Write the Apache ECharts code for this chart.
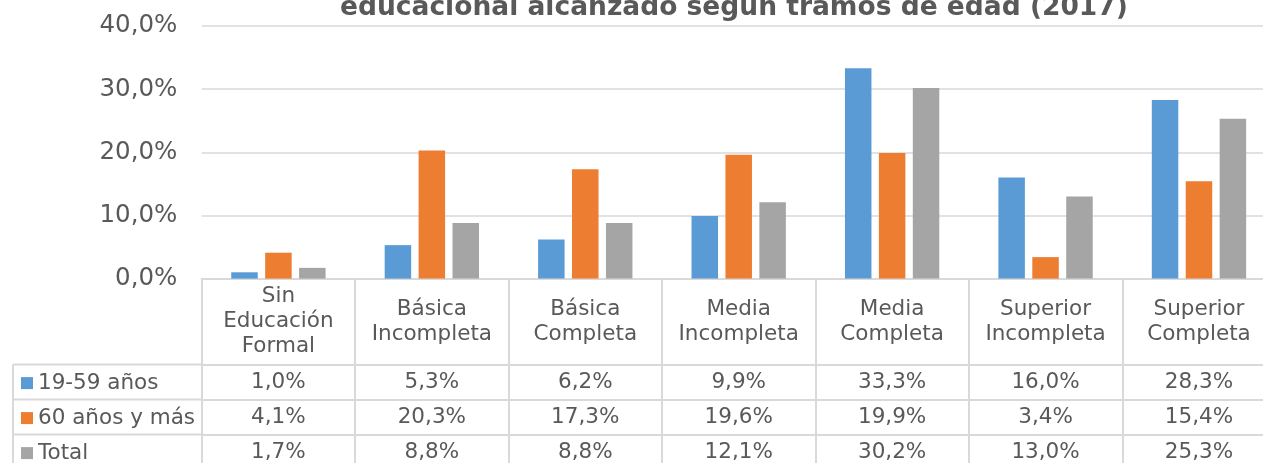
<!DOCTYPE html>
<html>
<head>
<meta charset="utf-8">
<script src="https://cdn.jsdelivr.net/npm/echarts@6/dist/echarts.min.js"></script>
<style>
  html, body { margin: 0; padding: 0; background: #fff; }
  #chart { width: 1263px; height: 463px; }
</style>
</head>
<body>
<div id="chart"></div>
<script>
// datos
const titleText = 'educacional alcanzado según tramos de edad (2017)';
const categories = [
  'Sin\nEducación\nFormal',
  'Básica\nIncompleta',
  'Básica\nCompleta',
  'Media\nIncompleta',
  'Media\nCompleta',
  'Superior\nIncompleta',
  'Superior\nCompleta'
];
const seriesNames = ['19-59 años', '60 años y más', 'Total'];
const joven = [1.0, 5.3, 6.2, 9.9, 33.3, 16.0, 28.3];
const mayor = [4.1, 20.3, 17.3, 19.6, 19.9, 3.4, 15.4];
const total = [1.7, 8.8, 8.8, 12.1, 30.2, 13.0, 25.3];
const yTicks = [0, 10, 20, 30, 40];

const colors = ['#5B9BD5', '#ED7D31', '#A5A5A5'];
const textColor = '#595959';
const lineColor = '#D9D9D9';
const font = "'DejaVu Sans'";
const tableFont = 21.5;

// layout
const gridLeft = 201.7, gridTop = 26, gridWidth = 1074, gridHeight = 252.6;
const headerH = 86, rowH = 35;
const axisY = gridTop + gridHeight;

const fmt = v => v.toFixed(1).replace('.', ',') + '%';

const rows = [joven, mayor, total];

function rowAxis(values, i) {
  return {
    type: 'category',
    data: categories,
    position: 'bottom',
    offset: headerH + rowH * i,
    axisLine: { show: true, lineStyle: { color: lineColor, width: 2 } },
    axisTick: { show: true, length: rowH, interval: 0, lineStyle: { color: lineColor, width: 2 } },
    axisLabel: {
      interval: 0,
      margin: rowH / 2,
      verticalAlign: 'middle',
      fontFamily: font,
      fontSize: tableFont,
      color: textColor,
      formatter: (val, idx) => fmt(values[idx])
    }
  };
}

const chart = echarts.init(document.getElementById('chart'));

// bordes de la columna de leyenda
const leftLines = [];
for (let i = 0; i < 3; i++) {
  const y = axisY + headerH + rowH * i;
  leftLines.push({
    type: 'line',
    shape: { x1: 13, y1: y, x2: gridLeft, y2: y },
    style: { stroke: lineColor, lineWidth: 2 }
  });
}
leftLines.push({
  type: 'line',
  shape: { x1: 13, y1: axisY + headerH, x2: 13, y2: 470 },
  style: { stroke: lineColor, lineWidth: 2 }
});

// una leyenda por fila de la tabla
const legends = seriesNames.map((name, i) => ({
  orient: 'vertical',
  left: 21,
  top: axisY + headerH + rowH * i + rowH / 2 - 10,
  padding: 0,
  itemWidth: 12,
  itemHeight: 12,
  icon: 'rect',
  selectedMode: false,
  data: [name],
  textStyle: { fontFamily: font, fontSize: tableFont, lineHeight: 20, color: textColor }
}));

const option = {
  animation: false,
  backgroundColor: '#fff',
  title: {
    text: titleText,
    left: 340,
    top: -5,
    padding: 0,
    textStyle: { fontFamily: font, fontSize: 26.5, fontWeight: 'bold', color: textColor }
  },
  legend: legends,
  grid: {
    left: gridLeft, top: gridTop, width: gridWidth, height: gridHeight,
    outerBoundsMode: 'none'
  },
  xAxis: [
    {
      type: 'category',
      data: categories,
      position: 'bottom',
      axisLine: { show: true, lineStyle: { color: lineColor, width: 2 } },
      axisTick: { show: true, length: headerH, interval: 0, lineStyle: { color: lineColor, width: 2 } },
      axisLabel: {
        interval: 0,
        margin: headerH / 2,
        verticalAlign: 'middle',
        fontFamily: font,
        fontSize: tableFont,
        lineHeight: 25,
        color: textColor
      }
    },
    rowAxis(joven, 0),
    rowAxis(mayor, 1),
    rowAxis(total, 2)
  ],
  yAxis: {
    type: 'value',
    min: yTicks[0],
    max: yTicks[yTicks.length - 1],
    interval: yTicks[1] - yTicks[0],
    axisLine: { show: false },
    axisTick: { show: false },
    splitLine: { lineStyle: { color: lineColor, width: 1.5 } },
    axisLabel: {
      margin: 24.4,
      fontFamily: font,
      fontSize: 24.5,
      color: textColor,
      formatter: v => fmt(v)
    }
  },
  series: rows.map((vals, i) => ({
    name: seriesNames[i],
    type: 'bar',
    xAxisIndex: 0,
    data: vals,
    barWidth: 26.5,
    barGap: '28%',
    itemStyle: { color: colors[i] }
  })),
  graphic: leftLines
};

chart.setOption(option);
</script>
</body>
</html>
